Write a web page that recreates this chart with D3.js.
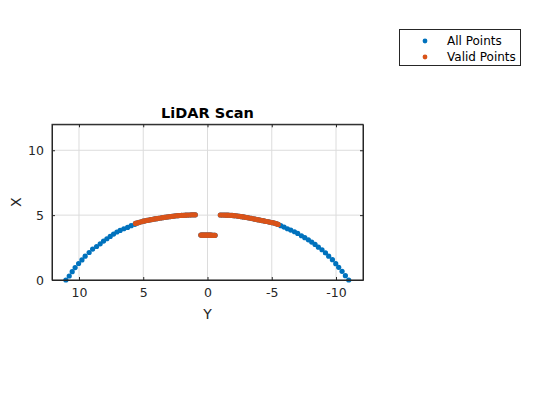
<!DOCTYPE html>
<html>
<head>
<meta charset="utf-8">
<script src="https://cdn.jsdelivr.net/npm/d3@7"></script>
<style>
  body { margin: 0; background: #fff; }
  svg text { font-family: "DejaVu Sans", sans-serif; }
  .axis path, .axis line { stroke: #262626; }
  .axis text { fill: #262626; }
</style>
</head>
<body>
<script>
// LiDAR scan: horizontal axis is Y (reversed), vertical axis is X.

// blue points at the two ends of the arc (only part of "All Points" that shows)
var endY = [11.02, 10.76, 10.53, 10.30, 10.03, 9.77, 9.52, 9.21, 8.94, 8.63, 8.35,
    8.09, 7.83, 7.57, 7.31, 7.05, 6.80, 6.51, 6.22, 5.94, 5.65,
    -5.70, -5.96, -6.22, -6.48, -6.77, -7.02, -7.31, -7.57, -7.85, -8.11,
    -8.37, -8.63, -8.91, -9.18, -9.43, -9.72, -9.98, -10.21, -10.47, -10.73, -10.99];
var endX = [0.00, 0.31, 0.64, 0.96, 1.27, 1.55, 1.84, 2.12, 2.38, 2.58, 2.79,
    3.00, 3.18, 3.36, 3.54, 3.70, 3.82, 3.95, 4.05, 4.19, 4.29,
    4.19, 4.08, 3.95, 3.85, 3.72, 3.59, 3.41, 3.26, 3.10, 2.92,
    2.74, 2.53, 2.33, 2.09, 1.84, 1.57, 1.26, 0.98, 0.67, 0.33, 0.00];

// valid points: two arc pieces near X=5 and the short segment near X=3.5
var validY = [5.60, 5.45, 5.30, 5.15, 5.00, 4.85, 4.70, 4.55, 4.40, 4.25, 4.10,
    3.95, 3.80, 3.65, 3.50, 3.35, 3.20, 3.05, 2.90, 2.75, 2.60, 2.45, 2.30,
    2.15, 2.00, 1.85, 1.70, 1.55, 1.40, 1.25, 1.10, 0.95,
    -1.00, -1.15, -1.30, -1.45, -1.60, -1.75, -1.90, -2.05, -2.20, -2.35,
    -2.50, -2.65, -2.80, -2.95, -3.10, -3.25, -3.40, -3.55, -3.70, -3.85,
    -4.00, -4.15, -4.30, -4.45, -4.60, -4.75, -4.90, -5.05, -5.20, -5.35, -5.50,
    0.52, 0.44, 0.36, 0.28, 0.20, 0.12, 0.04, -0.04, -0.12, -0.20, -0.28,
    -0.36, -0.44, -0.52, -0.59];
var validX = [4.36, 4.40, 4.45, 4.49, 4.53, 4.56, 4.59, 4.62, 4.65, 4.68, 4.71,
    4.73, 4.76, 4.78, 4.80, 4.83, 4.85, 4.87, 4.89, 4.91, 4.93, 4.95, 4.96,
    4.97, 4.98, 4.99, 5.00, 5.01, 5.01, 5.02, 5.02, 5.02,
    5.01, 5.01, 5.01, 5.00, 5.00, 4.99, 4.98, 4.96, 4.95, 4.93,
    4.91, 4.88, 4.86, 4.83, 4.81, 4.78, 4.75, 4.72, 4.69, 4.66,
    4.63, 4.60, 4.57, 4.54, 4.51, 4.48, 4.45, 4.42, 4.39, 4.34, 4.28,
    3.46, 3.46, 3.46, 3.46, 3.46, 3.46, 3.46, 3.46, 3.46, 3.46, 3.46,
    3.45, 3.45, 3.44, 3.44];

var allY = endY.concat(validY),
    allX = endX.concat(validX);

var xTicks = [10, 5, 0, -5, -10],
    yTicks = [0, 5, 10];
var legendLabels = ['All Points', 'Valid Points'],
    colors = ['#0072BD', '#D95319'];

var width = 560, height = 420,
    axL = 52, axR = 363, axT = 124.3, axB = 280;

var svg = d3.select('body').append('svg')
    .attr('width', width)
    .attr('height', height);

var xs = d3.scaleLinear().domain([12.1, -12.1]).range([axL, axR]);
var ys = d3.scaleLinear().domain([0, 12]).range([axB, axT]);

// grid
var grid = svg.append('g');
grid.selectAll('.vg').data(xTicks).enter().append('line')
    .attr('x1', function(d) { return xs(d); })
    .attr('x2', function(d) { return xs(d); })
    .attr('y1', axT).attr('y2', axB)
    .style('stroke', '#dcdcdc').style('stroke-width', 1);
grid.selectAll('.hg').data(yTicks).enter().append('line')
    .attr('x1', axL).attr('x2', axR)
    .attr('y1', function(d) { return ys(d); })
    .attr('y2', function(d) { return ys(d); })
    .style('stroke', '#dcdcdc').style('stroke-width', 1);

// points
function drawPoints(Y, X, color) {
    svg.append('g').selectAll('circle')
        .data(Y)
        .enter()
        .append('circle')
        .attr('cx', function(d) { return xs(d); })
        .attr('cy', function(d, i) { return ys(X[i]); })
        .attr('r', 2.6)
        .style('fill', color);
}
drawPoints(allY, allX, colors[0]);
drawPoints(validY, validX, colors[1]);

// axes, ticks inside on all four sides
var fmt = function(d) { return String(d); };
svg.append('g').classed('axis', true)
    .attr('transform', 'translate(0,' + axB + ')')
    .call(d3.axisBottom(xs).tickValues(xTicks).tickFormat(fmt).tickSizeInner(-3).tickSizeOuter(0).tickPadding(8));
svg.append('g').classed('axis', true)
    .attr('transform', 'translate(0,' + axT + ')')
    .call(d3.axisTop(xs).tickValues(xTicks).tickFormat('').tickSizeInner(-3).tickSizeOuter(0));
svg.append('g').classed('axis', true)
    .attr('transform', 'translate(' + axL + ',0)')
    .call(d3.axisLeft(ys).tickValues(yTicks).tickFormat(fmt).tickSizeInner(-3).tickSizeOuter(0).tickPadding(8));
svg.append('g').classed('axis', true)
    .attr('transform', 'translate(' + axR + ',0)')
    .call(d3.axisRight(ys).tickValues(yTicks).tickFormat('').tickSizeInner(-3).tickSizeOuter(0));
svg.selectAll('.axis text').style('font-size', '12.5px').style('font-family', '"DejaVu Sans", sans-serif');

// box
svg.append('rect')
    .attr('x', axL).attr('y', axT)
    .attr('width', axR - axL).attr('height', axB - axT)
    .style('fill', 'none').style('stroke', '#262626').style('stroke-width', 1);

// labels
svg.append('text')
    .attr('x', (axL + axR) / 2).attr('y', 118)
    .attr('text-anchor', 'middle')
    .style('font-size', '14.5px').style('font-weight', 'bold').style('fill', '#000')
    .text('LiDAR Scan');
svg.append('text')
    .attr('x', (axL + axR) / 2).attr('y', 319)
    .attr('text-anchor', 'middle')
    .style('font-size', '14px').style('fill', '#262626')
    .text('Y');
svg.append('text')
    .attr('transform', 'translate(21,' + (axT + axB) / 2 + ') rotate(-90)')
    .attr('text-anchor', 'middle')
    .style('font-size', '14px').style('fill', '#262626')
    .text('X');

// legend
var legend = svg.append('g');
legend.append('rect')
    .attr('x', 399.5).attr('y', 29.5)
    .attr('width', 121).attr('height', 36)
    .style('fill', '#fff').style('stroke', '#262626').style('stroke-width', 1);
var items = legend.selectAll('.item')
    .data(legendLabels)
    .enter()
    .append('g')
    .attr('transform', function(d, i) { return 'translate(0,' + (41 + 16 * i) + ')'; });
items.append('circle')
    .attr('cx', 425).attr('cy', 0).attr('r', 2.4)
    .style('fill', function(d, i) { return colors[i]; });
items.append('text')
    .attr('x', 447).attr('y', 0).attr('dy', '0.35em')
    .style('font-size', '12px').style('fill', '#000')
    .text(function(d) { return d; });
</script>
</body>
</html>
